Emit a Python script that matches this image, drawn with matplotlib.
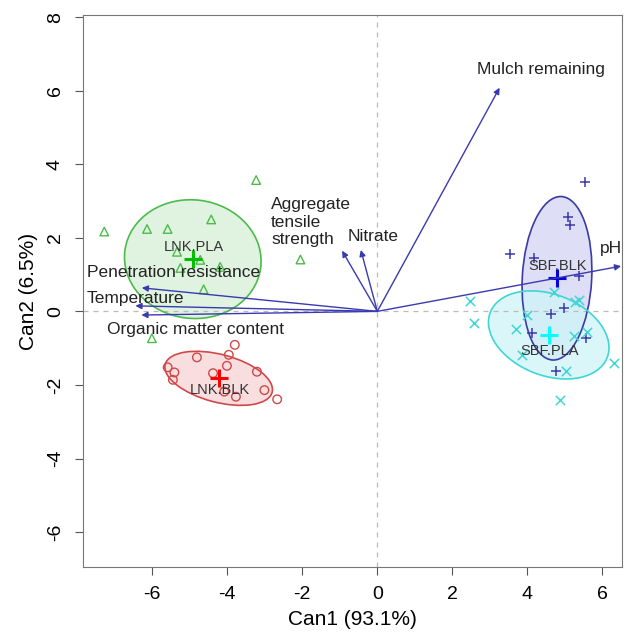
import numpy as np
import matplotlib.pyplot as plt
from matplotlib.patches import Ellipse

plt.rcParams['font.family'] = ['Liberation Sans', 'DejaVu Sans']
plt.rcParams['axes.unicode_minus'] = False

# group scores (Can1, Can2)
lnk_pla_x = [-3.23, -7.28, -6.14, -5.59, -4.43, -5.34, -4.72, -5.25, -4.19, -2.05, -4.63, -6.01]
lnk_pla_y = [3.57, 2.17, 2.24, 2.24, 2.50, 1.62, 1.40, 1.18, 1.21, 1.41, 0.60, -0.73]
lnk_blk_x = [-3.80, -4.81, -3.96, -5.59, -4.01, -4.38, -5.41, -3.21, -5.45, -3.01, -4.08, -3.77, -2.67]
lnk_blk_y = [-0.91, -1.25, -1.18, -1.52, -1.48, -1.68, -1.66, -1.64, -1.86, -2.14, -2.18, -2.32, -2.39]
sbf_blk_x = [5.55, 5.08, 5.13, 3.53, 4.19, 5.37, 4.97, 4.63, 4.12, 5.57, 4.76]
sbf_blk_y = [3.52, 2.57, 2.35, 1.55, 1.46, 0.96, 0.08, -0.07, -0.60, -0.73, -1.61]
sbf_pla_x = [2.48, 2.59, 3.71, 3.99, 4.70, 5.28, 5.39, 5.24, 5.59, 3.86, 5.04, 6.32, 4.86]
sbf_pla_y = [0.29, -0.31, -0.49, -0.10, 0.54, 0.26, 0.31, -0.67, -0.55, -1.18, -1.61, -1.41, -2.41]

groups = ['LNK.PLA', 'LNK.BLK', 'SBF.BLK', 'SBF.PLA']
centroid_x = [-4.92, -4.23, 4.79, 4.57]
centroid_y = [1.42, -1.82, 0.90, -0.64]
label_x = [-4.90, -4.19, 4.81, 4.60]
label_y = [1.76, -2.14, 1.23, -1.07]
# ellipse width, height, angle
ell_w = [3.65, 2.95, 1.85, 3.35]
ell_h = [3.22, 1.30, 4.45, 2.20]
ell_a = [-8, -15, -3, -22]

# structure vectors
var_names = ['Mulch remaining', 'pH', 'Nitrate', 'Aggregate\ntensile\nstrength',
             'Penetration resistance', 'Temperature', 'Organic matter content']
var_x = [3.26, 6.50, -0.44, -0.94, -6.28, -6.45, -6.29]
var_y = [6.08, 1.23, 1.67, 1.65, 0.64, 0.15, -0.10]
lab_x = [4.35, 6.22, -0.10, -2.83, -5.44, -6.45, -4.85]
lab_y = [6.58, 1.72, 2.03, 2.42, 1.07, 0.36, -0.50]
lab_ha = ['center', 'center', 'center', 'left', 'center', 'center', 'center']

pt_col = ['#4cbb4c', '#d04848', '#3a3aa8', '#3fd6d6']
fill_col = ['#d6f0d6', '#f6d4d4', '#d4d4f4', '#cff4f6']
cen_col = ['#00c000', '#ff0000', '#0000e0', '#00ffff']
markers = ['^', 'o', '+', 'x']
arrow_col = '#3a3ab0'

fig = plt.figure(figsize=(6.26, 6.35), dpi=100)
ax = fig.add_axes([0.133, 0.107, 0.861, 0.869])

pts = [(lnk_pla_x, lnk_pla_y), (lnk_blk_x, lnk_blk_y), (sbf_blk_x, sbf_blk_y), (sbf_pla_x, sbf_pla_y)]

for i in range(4):
    e = Ellipse((centroid_x[i], centroid_y[i]), ell_w[i], ell_h[i], angle=ell_a[i],
                facecolor=fill_col[i], edgecolor='none', alpha=0.75, zorder=1)
    ax.add_patch(e)
for i in range(4):
    e = Ellipse((centroid_x[i], centroid_y[i]), ell_w[i], ell_h[i], angle=ell_a[i],
                facecolor='none', edgecolor=pt_col[i], lw=1.2, zorder=2)
    ax.add_patch(e)

ax.axhline(0, color='#bbbbbb', ls=(0, (4, 4)), lw=0.9, zorder=1.5)
ax.axvline(0, color='#bbbbbb', ls=(0, (4, 4)), lw=0.9, zorder=1.5)

for i in range(4):
    x, y = pts[i]
    if markers[i] in ['+', 'x']:
        ax.scatter(x, y, marker=markers[i], s=45, color=pt_col[i], lw=1.1, zorder=3)
    else:
        ax.scatter(x, y, marker=markers[i], s=38, facecolors='none', edgecolors=pt_col[i], lw=1.0, zorder=3)
    ax.scatter(centroid_x[i], centroid_y[i], marker='+', s=180, color=cen_col[i], lw=2.2, zorder=4)
    ax.text(label_x[i], label_y[i], groups[i], ha='center', va='center', fontsize=10.5,
            color='#333333', zorder=5)

for i in range(len(var_names)):
    ax.annotate('', xy=(var_x[i], var_y[i]), xytext=(0, 0), annotation_clip=False,
                arrowprops=dict(arrowstyle='-|>', color=arrow_col, lw=1.0,
                                mutation_scale=9, shrinkA=0, shrinkB=0), zorder=4)
    ax.text(lab_x[i], lab_y[i], var_names[i], ha=lab_ha[i], va='center', fontsize=12.5,
            color='#222222', linespacing=1.2, zorder=5)

ax.set_xlim(-7.84, 6.53)
ax.set_ylim(-6.95, 8.05)
ax.set_xticks([-6, -4, -2, 0, 2, 4, 6])
ax.set_yticks([-6, -4, -2, 0, 2, 4, 6, 8])
ax.set_yticklabels(['-6', '-4', '-2', '0', '2', '4', '6', '8'], rotation=90, va='center')
ax.tick_params(labelsize=14, length=6, color='#555555', pad=8)
for s in ax.spines.values():
    s.set_color('#777777')
ax.set_xlabel('Can1 (93.1%)', fontsize=15, labelpad=5)
ax.set_ylabel('Can2 (6.5%)', fontsize=15, labelpad=6)

fig.savefig('out.png', dpi=100)
